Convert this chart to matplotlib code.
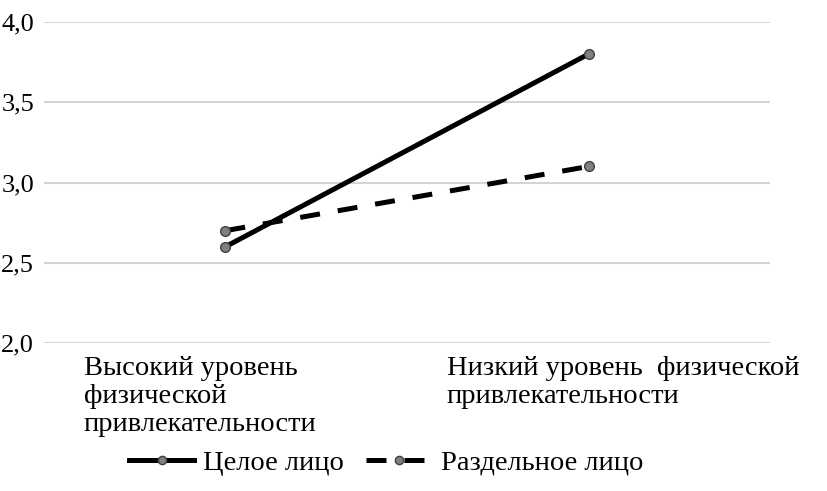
import matplotlib.pyplot as plt
import matplotlib.transforms as mtransforms

# данные графика
categories = ["Высокий уровень\nфизической\nпривлекательности",
              "Низкий уровень  физической\nпривлекательности"]
tseloe = [2.6, 3.8]
razdelnoe = [2.7, 3.1]
yticks = [2.0, 2.5, 3.0, 3.5, 4.0]

plt.rcParams['font.family'] = ['Liberation Serif', 'DejaVu Serif']

fig = plt.figure(figsize=(8.28, 4.91), dpi=100)
ax = fig.add_axes([0.053, 0.3014, 0.877, 0.6538])

x = list(range(len(categories)))
ax.plot(x, tseloe, color='black', lw=3.6, marker='o', markersize=7,
        markerfacecolor='#808080', markeredgecolor='#404040', markeredgewidth=1,
        label='Целое лицо', zorder=3)
ax.plot(x, razdelnoe, color='black', lw=3.6, ls=(0, (4, 3.6)), marker='o', markersize=7,
        markerfacecolor='#808080', markeredgecolor='#404040', markeredgewidth=1,
        label='Раздельное лицо', zorder=3)

ax.set_xlim(-0.5, 1.5)
ax.set_ylim(2.0, 4.0)
ax.set_yticks(yticks)
ax.set_yticklabels([f"{v:.1f}".replace('.', ',') for v in yticks], fontsize=19)
ax.grid(axis='y', color='#d4d4d4', lw=1.5)
ax.set_axisbelow(True)
ax.tick_params(axis='y', length=0, pad=7)
ax.set_xticks([])
for s in ax.spines.values():
    s.set_visible(False)

# подписи категорий, выровненные влево как в исходнике
trans = mtransforms.blended_transform_factory(ax.transData, ax.transAxes)
for i, lab in enumerate(categories):
    ax.text(i - 0.39, -0.042, lab, transform=trans, ha='left', va='top',
            fontsize=20.5, linespacing=1.15)

fig.legend(loc='center', bbox_to_anchor=(0.466, 0.057), ncol=2, frameon=False,
           fontsize=20.5, handlelength=2.3, columnspacing=0.8, handletextpad=0.3,
           markerscale=0.85)

fig.savefig('out.png', dpi=100)
